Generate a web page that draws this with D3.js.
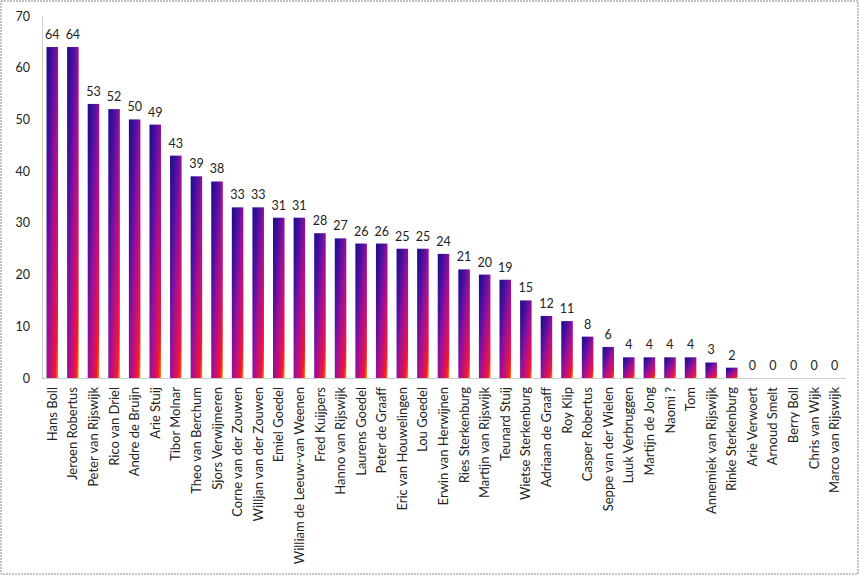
<!DOCTYPE html>
<html>
<head>
<meta charset="utf-8">
<script src="https://cdn.jsdelivr.net/npm/d3@7"></script>
<style>
  body { margin: 0; background: #fff; }
  svg text { font-family: Lato, "Open Sans", sans-serif; fill: #222; }
</style>
</head>
<body>
<div id="chart"></div>
<script>
var names = ["Hans Boll", "Jeroen Robertus", "Peter van Rijswijk", "Rico van Driel", "Andre de Bruijn",
  "Arie Stuij", "Tibor Molnar", "Theo van Berchum", "Sjors Verwijmeren", "Corne van der Zouwen",
  "Willjan van der Zouwen", "Emiel Goedel", "William de Leeuw-van Weenen", "Fred Kuijpers",
  "Hanno van Rijswijk", "Laurens Goedel", "Peter de Graaff", "Eric van Houwelingen", "Lou Goedel",
  "Erwin van Herwijnen", "Ries Sterkenburg", "Martijn van Rijswijk", "Teunard Stuij",
  "Wietse Sterkenburg", "Adriaan de Graaff", "Roy Klip", "Casper Robertus", "Seppe van der Wielen",
  "Luuk Verbruggen", "Martijn de Jong", "Naomi ?", "Tom", "Annemiek van Rijswijk",
  "Rinke Sterkenburg", "Arie Verwoert", "Arnoud Smelt", "Berry Boll", "Chris van Wijk",
  "Marco van Rijswijk"];
var scores = [64, 64, 53, 52, 50, 49, 43, 39, 38, 33, 33, 31, 31, 28, 27, 26, 26, 25, 25, 24,
  21, 20, 19, 15, 12, 11, 8, 6, 4, 4, 4, 4, 3, 2, 0, 0, 0, 0, 0];
var yTicks = [0, 10, 20, 30, 40, 50, 60, 70];

var svgWidth = 860;
var svgHeight = 576;
var margin = { top: 16, right: 15, bottom: 198, left: 42 };
var chartWidth = svgWidth - margin.left - margin.right;
var chartHeight = svgHeight - margin.top - margin.bottom;

var svg = d3.select("#chart")
  .append("svg")
  .attr("width", svgWidth)
  .attr("height", svgHeight);

// outer frame
svg.append("rect")
  .attr("x", 1).attr("y", 1)
  .attr("width", svgWidth - 3).attr("height", svgHeight - 3)
  .attr("fill", "none")
  .attr("stroke", "#888")
  .attr("stroke-dasharray", "2,1");

var grad = svg.append("defs").append("linearGradient")
  .attr("id", "barGrad")
  .attr("x1", 0).attr("y1", 0).attr("x2", 1).attr("y2", 1);
[[0, "#1a0c8e"], [0.3, "#50109e"], [0.5, "#94109a"], [0.72, "#d0106a"], [0.88, "#f01c30"], [0.97, "#ff7010"], [1, "#ffc040"]]
  .forEach(function(s) {
    grad.append("stop").attr("offset", s[0]).attr("stop-color", s[1]);
  });

var chartGroup = svg.append("g")
  .attr("transform", `translate(${margin.left}, ${margin.top})`);

var xScale = d3.scaleBand()
  .domain(names)
  .range([0, chartWidth])
  .paddingInner(0.44)
  .paddingOuter(0.22);

var yScale = d3.scaleLinear()
  .domain([0, 70])
  .range([chartHeight, 0]);

// y axis
var leftAxis = d3.axisLeft(yScale).tickValues(yTicks).tickSize(0).tickPadding(12);
var yAxisG = chartGroup.append("g").call(leftAxis);
yAxisG.select(".domain").attr("stroke", "#999").attr("stroke-dasharray", "1,1");
yAxisG.selectAll("text").style("font-size", "12.5px").attr("fill", "#222");

// x axis
var bottomAxis = d3.axisBottom(xScale).tickSize(0).tickPadding(0);
var xAxisG = chartGroup.append("g")
  .attr("transform", `translate(0, ${chartHeight})`)
  .call(bottomAxis);
xAxisG.select(".domain").attr("stroke", "#999").attr("stroke-dasharray", "1,1");
xAxisG.selectAll("text")
  .style("font-size", "13px")
  .attr("fill", "#222")
  .attr("text-anchor", "end")
  .attr("transform", "rotate(-90)")
  .attr("x", -9)
  .attr("y", 0)
  .attr("dy", "0.35em");

var bars = chartGroup.selectAll(".bar")
  .data(names)
  .enter();

bars.append("rect")
  .attr("x", d => xScale(d))
  .attr("y", (d, i) => yScale(scores[i]))
  .attr("width", xScale.bandwidth())
  .attr("height", (d, i) => chartHeight - yScale(scores[i]))
  .attr("fill", "url(#barGrad)");

bars.append("text")
  .attr("x", d => xScale(d) + xScale.bandwidth() / 2)
  .attr("y", (d, i) => yScale(scores[i]) - 8)
  .attr("text-anchor", "middle")
  .style("font-size", "12.5px")
  .text((d, i) => scores[i]);
</script>
</body>
</html>
